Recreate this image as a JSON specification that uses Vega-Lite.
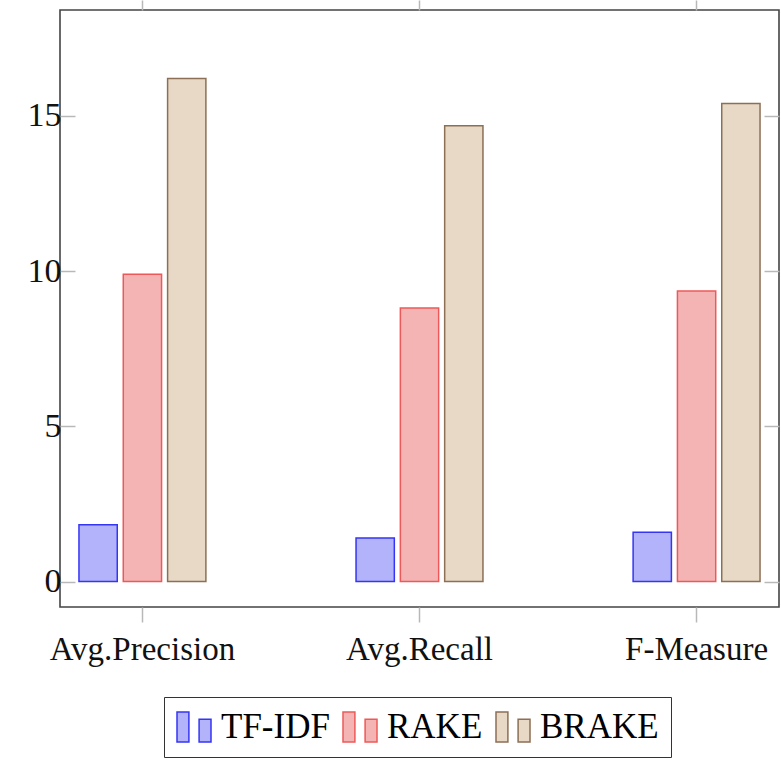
{
  "$schema": "https://vega.github.io/schema/vega-lite/v6.json",
  "width": 719,
  "height": 597,
  "autosize": {"type": "none"},
  "padding": {"left": 60, "top": 10, "right": 2, "bottom": 153},
  "background": "white",
  "config": {
    "view": {"stroke": "#444", "strokeWidth": 1.6},
    "font": "Liberation Serif",
    "axis": {"grid": false, "domain": false, "labelFont": "Liberation Serif", "labelColor": "#111", "tickColor": "#b8b8b8", "tickWidth": 1.5, "labelLimit": 0}
  },
  "data": {
    "values": [
      {"category": "Avg.Precision", "method": "TF-IDF", "value": 1.83},
      {"category": "Avg.Precision", "method": "RAKE", "value": 9.90},
      {"category": "Avg.Precision", "method": "BRAKE", "value": 16.20},
      {"category": "Avg.Recall", "method": "TF-IDF", "value": 1.40},
      {"category": "Avg.Recall", "method": "RAKE", "value": 8.81},
      {"category": "Avg.Recall", "method": "BRAKE", "value": 14.68},
      {"category": "F-Measure", "method": "TF-IDF", "value": 1.59},
      {"category": "F-Measure", "method": "RAKE", "value": 9.36},
      {"category": "F-Measure", "method": "BRAKE", "value": 15.40}
    ]
  },
  "layer": [
    {
      "mark": {"type": "bar", "strokeWidth": 1.5, "fillOpacity": 1},
      "encoding": {
        "x": {
          "field": "category", "type": "nominal",
          "sort": ["Avg.Precision", "Avg.Recall", "F-Measure"],
          "scale": {"paddingInner": 0.405, "paddingOuter": 0},
          "axis": {"orient": "bottom", "title": null, "labelAngle": 0, "labelFontSize": 33, "tickSize": 15, "labelPadding": 11, "labelLimit": 0}
        },
        "xOffset": {
          "field": "method", "type": "nominal",
          "sort": ["TF-IDF", "RAKE", "BRAKE"],
          "scale": {"paddingInner": 0.136, "paddingOuter": 0.428}
        },
        "y": {
          "field": "value", "type": "quantitative",
          "scale": {"domain": [-0.82, 18.41], "nice": false, "zero": false},
          "axis": {"orient": "left", "title": null, "values": [0, 5, 10, 15], "labelFontSize": 34, "tickSize": -15, "labelPadding": 14}
        },
        "y2": {"datum": 0},
        "fill": {
          "field": "method", "type": "nominal",
          "scale": {"domain": ["TF-IDF", "RAKE", "BRAKE"], "range": ["#b3b3fb", "#f5b4b4", "#e8d9c7"]},
          "legend": {"orient": "none", "legendX": 104, "legendY": 687, "direction": "horizontal", "title": null,
            "symbolType": "M-1,-0.88H-0.3V0.88H-1Z M0.3,-0.45H1V0.88H0.3Z", "symbolSize": 1156, "symbolStrokeWidth": 1.5, "symbolOpacity": 1,
            "labelFontSize": 35, "labelFont": "Liberation Serif", "labelColor": "#000", "labelOffset": 9, "columnPadding": 10, "labelLimit": 0,
            "strokeColor": "#333", "padding": 12, "fillColor": "white"}
        },
        "stroke": {
          "field": "method", "type": "nominal",
          "scale": {"domain": ["TF-IDF", "RAKE", "BRAKE"], "range": ["#3535f5", "#ee5858", "#8c6f55"]},
          "legend": {"orient": "none", "legendX": 104, "legendY": 687, "direction": "horizontal", "title": null,
            "symbolType": "M-1,-0.88H-0.3V0.88H-1Z M0.3,-0.45H1V0.88H0.3Z", "symbolSize": 1156, "symbolStrokeWidth": 1.5, "symbolOpacity": 1,
            "labelFontSize": 35, "labelFont": "Liberation Serif", "labelColor": "#000", "labelOffset": 9, "columnPadding": 10, "labelLimit": 0,
            "strokeColor": "#333", "padding": 12, "fillColor": "white"}
        }
      }
    },
    {
      "mark": {"type": "point", "opacity": 0},
      "encoding": {
        "x": {
          "field": "category", "type": "nominal",
          "sort": ["Avg.Precision", "Avg.Recall", "F-Measure"],
          "axis": {"orient": "top", "title": null, "labels": false, "tickSize": 10}
        },
        "y": {
          "field": "value", "type": "quantitative",
          "axis": {"orient": "right", "title": null, "labels": false, "values": [0, 5, 10, 15], "tickSize": -15}
        }
      }
    }
  ],
  "resolve": {"axis": {"x": "independent", "y": "independent"}}
}
